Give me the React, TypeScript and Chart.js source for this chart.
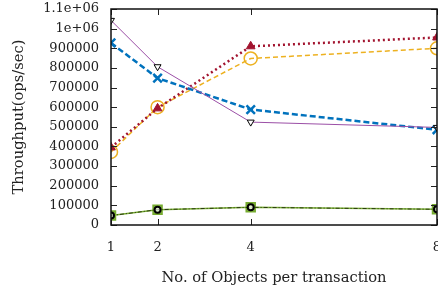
import React, { useEffect, useRef } from "react";
import { Chart, registerables } from "chart.js";

Chart.register(...registerables);

const objectsPerTx = [1, 2, 4, 8];
const yTicks = [0, 100000, 200000, 300000, 400000, 500000, 600000, 700000, 800000, 900000, 1000000, 1100000];
const yTickLabels = ["0", "100000", "200000", "300000", "400000", "500000", "600000", "700000", "800000", "900000", "1e+06", "1.1e+06"];

const purpleSeries = [1042000, 806000, 524000, 497000];
const blueSeries = [927000, 748000, 588000, 485000];
const redSeries = [395000, 594000, 910000, 955000];
const yellowSeries = [372000, 600000, 848000, 900000];
const greenSeries = [48000, 78000, 90000, 80000];
const blackSeries = [48000, 78000, 90000, 80000];

const FONT = "'DejaVu Serif', serif";

const framePlugin = {
  id: "frame",
  afterDatasetsDraw(chart: any) {
    const { ctx, chartArea } = chart;
    const { left, right, top, bottom } = chartArea;
    const xs = chart.scales.x;
    const ys = chart.scales.y;
    ctx.save();
    ctx.strokeStyle = "#222";
    ctx.lineWidth = 1;
    const tl = 6;
    ctx.beginPath();
    for (const v of yTicks) {
      const y = Math.round(ys.getPixelForValue(v)) + 0.5;
      ctx.moveTo(left, y);
      ctx.lineTo(left + tl, y);
      ctx.moveTo(right, y);
      ctx.lineTo(right - tl, y);
    }
    for (const v of objectsPerTx) {
      const x = Math.round(xs.getPixelForValue(v)) + 0.5;
      ctx.moveTo(x, bottom);
      ctx.lineTo(x, bottom - tl);
      ctx.moveTo(x, top);
      ctx.lineTo(x, top + tl);
    }
    ctx.stroke();
    ctx.lineWidth = 1.5;
    ctx.strokeStyle = "#111";
    ctx.strokeRect(left, top, right - left, bottom - top);
    ctx.restore();
  },
};

export default function App() {
  const ref = useRef<HTMLCanvasElement>(null);
  useEffect(() => {
    if (!ref.current) return;
    const chart = new Chart(ref.current, {
      type: "line",
      data: {
        datasets: [
          {
            data: objectsPerTx.map((x, i) => ({ x, y: blackSeries[i] })),
            borderColor: "#2a3a10",
            borderWidth: 1,
            borderDash: [4, 2, 1, 2],
            pointStyle: "circle",
            pointRadius: 3,
            pointBorderColor: "#000",
            pointBorderWidth: 2,
            pointBackgroundColor: "rgba(255,255,255,0.6)",
          },
          {
            data: objectsPerTx.map((x, i) => ({ x, y: greenSeries[i] })),
            borderColor: "#77ac30",
            borderWidth: 1.5,
            pointStyle: "rect",
            pointRadius: 6,
            pointBorderColor: "#77ac30",
            pointBorderWidth: 2,
            pointBackgroundColor: "#b5d98a",
          },
          {
            data: objectsPerTx.map((x, i) => ({ x, y: purpleSeries[i] })),
            borderColor: "#9b4fa6",
            borderWidth: 1,
            pointStyle: "triangle",
            rotation: 180,
            pointRadius: 4,
            pointBorderColor: "#000",
            pointBorderWidth: 1,
            pointBackgroundColor: "#fff",
          },
          {
            data: objectsPerTx.map((x, i) => ({ x, y: blueSeries[i] })),
            borderColor: "#0072bd",
            borderWidth: 2.5,
            borderDash: [6, 3],
            pointStyle: "crossRot",
            pointRadius: 6,
            pointBorderColor: "#0072bd",
            pointBorderWidth: 2.5,
          },
          {
            data: objectsPerTx.map((x, i) => ({ x, y: redSeries[i] })),
            borderColor: "#a2142f",
            borderWidth: 2.5,
            borderDash: [2, 3],
            pointStyle: "triangle",
            pointRadius: 5,
            pointBorderColor: "#a2142f",
            pointBorderWidth: 1,
            pointBackgroundColor: "#a2142f",
          },
          {
            data: objectsPerTx.map((x, i) => ({ x, y: yellowSeries[i] })),
            borderColor: "#edb120",
            borderWidth: 1.5,
            borderDash: [5, 3],
            pointStyle: "circle",
            pointRadius: 6.5,
            pointBorderColor: "#edb120",
            pointBorderWidth: 1.5,
            pointBackgroundColor: "rgba(0,0,0,0)",
          },
        ] as any,
      },
      options: {
        animation: false,
        responsive: false,
        maintainAspectRatio: false,
        layout: { autoPadding: false, padding: { top: 9, right: 1, left: 0, bottom: 0 } },
        plugins: { legend: { display: false }, tooltip: { enabled: false } },
        scales: {
          x: {
            type: "linear",
            min: 1,
            max: 8,
            grid: { display: false, drawTicks: false },
            border: { display: false },
            afterBuildTicks: (s: any) => {
              s.ticks = objectsPerTx.map((v) => ({ value: v }));
            },
            afterFit: (s: any) => {
              s.height = 70;
              s.paddingLeft = 0;
              s.paddingRight = 0;
            },
            ticks: {
              padding: 15,
              color: "#222",
              font: { family: FONT, size: 13 },
              maxRotation: 0,
              autoSkip: false,
              callback: (v: any) => String(v),
            },
            title: {
              display: true,
              text: "No. of Objects per transaction",
              color: "#222",
              font: { family: FONT, size: 14.7 },
              padding: { top: 0, bottom: 8 },
            },
          },
          y: {
            type: "linear",
            min: 0,
            max: 1100000,
            grid: { display: false, drawTicks: false },
            border: { display: false },
            afterBuildTicks: (s: any) => {
              s.ticks = yTicks.map((v) => ({ value: v }));
            },
            afterFit: (s: any) => {
              s.width = 111;
              s.paddingTop = 0;
              s.paddingBottom = 0;
            },
            ticks: {
              padding: 12,
              color: "#222",
              font: { family: FONT, size: 13 },
              autoSkip: false,
              callback: (v: any) => {
                const i = yTicks.indexOf(Number(v));
                return i >= 0 ? yTickLabels[i] : "";
              },
            },
            title: {
              display: true,
              text: "Throughput(ops/sec)",
              color: "#222",
              font: { family: FONT, size: 14.7 },
              padding: { top: 10, bottom: 0 },
            },
          },
        },
      },
      plugins: [framePlugin],
    });
    return () => chart.destroy();
  }, []);
  return (
    <div style={{ position: "fixed", left: 0, top: 0, width: 438, height: 295, background: "#fff" }}>
      <canvas ref={ref} width={438} height={295} style={{ width: 438, height: 295 }} />
    </div>
  );
}
